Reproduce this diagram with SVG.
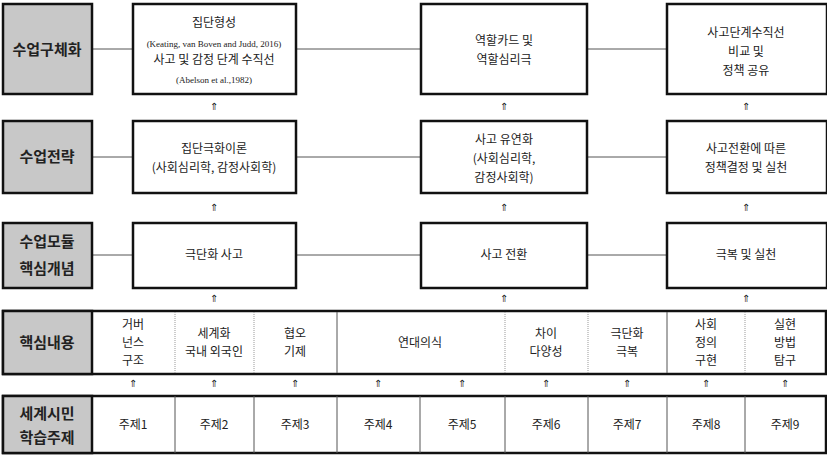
<svg xmlns="http://www.w3.org/2000/svg" width="827" height="457" viewBox="0 0 827 457">
<style>
text{font-family:"Noto Sans CJK KR","Liberation Serif",serif;text-anchor:middle;fill:#222}
.lab{fill:#c8c8c8;stroke:#111;stroke-width:2.5}
.lt{font-size:15px;font-weight:bold}
.box{fill:#fff;stroke:#111;stroke-width:2.5}
.t{font-size:12px}
.s{font-size:9px;font-family:"Liberation Serif",serif}
.ln{stroke:#555;stroke-width:1}
.dot{stroke:#999;stroke-width:1;stroke-dasharray:1 1}
.ar{font-size:10px;fill:#777}
</style>
<g id="connectors">
<line class="ln" x1="92" y1="49" x2="133" y2="49"/><line class="ln" x1="296" y1="49" x2="421" y2="49"/><line class="ln" x1="587" y1="49" x2="667" y2="49"/>
<line class="ln" x1="92" y1="157" x2="133" y2="157"/><line class="ln" x1="296" y1="157" x2="421" y2="157"/><line class="ln" x1="587" y1="157" x2="667" y2="157"/>
<line class="ln" x1="92" y1="255" x2="133" y2="255"/><line class="ln" x1="296" y1="255" x2="421" y2="255"/><line class="ln" x1="587" y1="255" x2="667" y2="255"/>
<g class="ar">
<text x="214" y="110">⇑</text><text x="504" y="110">⇑</text><text x="746" y="110">⇑</text>
<text x="214" y="211">⇑</text><text x="504" y="211">⇑</text><text x="746" y="211">⇑</text>
<text x="214" y="302">⇑</text><text x="504" y="302">⇑</text><text x="746" y="302">⇑</text>
<text x="133" y="387">⇑</text><text x="214" y="387">⇑</text><text x="295" y="387">⇑</text><text x="378" y="387">⇑</text><text x="462" y="387">⇑</text><text x="546" y="387">⇑</text><text x="627" y="387">⇑</text><text x="706" y="387">⇑</text><text x="785" y="387">⇑</text>
</g>
</g>
<g id="row1">
<rect class="lab" x="3" y="4" width="89" height="90"/><text class="lt" x="47" y="55">수업구체화</text>
<g id="n1a"><rect class="box" x="133" y="4" width="163" height="90"/>
<text class="t" x="214" y="27">집단형성</text><text class="s" x="214" y="47">(Keating, van Boven and Judd, 2016)</text><text class="t" x="214" y="64">사고 및 감정 단계 수직선</text><text class="s" x="214" y="83">(Abelson et al.,1982)</text></g>
<g id="n1b"><rect class="box" x="421" y="4" width="166" height="90"/><text class="t" x="504" y="45">역할카드 및</text><text class="t" x="504" y="64">역할심리극</text></g>
<g id="n1c"><rect class="box" x="667" y="4" width="160" height="90"/><text class="t" x="746" y="37">사고단계수직선</text><text class="t" x="746" y="56">비교 및</text><text class="t" x="746" y="75">정책 공유</text></g>
</g>
<g id="row2">
<rect class="lab" x="3" y="121" width="89" height="72"/><text class="lt" x="47" y="162">수업전략</text>
<g id="n2a"><rect class="box" x="133" y="121" width="163" height="72"/><text class="t" x="214" y="153">집단극화이론</text><text class="t" x="214" y="172">(사회심리학, 감정사회학)</text></g>
<g id="n2b"><rect class="box" x="421" y="121" width="166" height="72"/><text class="t" x="504" y="144">사고 유연화</text><text class="t" x="504" y="163">(사회심리학,</text><text class="t" x="504" y="182">감정사회학)</text></g>
<g id="n2c"><rect class="box" x="667" y="121" width="160" height="72"/><text class="t" x="746" y="153">사고전환에 따른</text><text class="t" x="746" y="172">정책결정 및 실천</text></g>
</g>
<g id="row3">
<rect class="lab" x="3" y="223" width="89" height="65"/><text class="lt" x="47" y="247">수업모듈</text><text class="lt" x="47" y="274">핵심개념</text>
<g id="n3a"><rect class="box" x="133" y="223" width="163" height="65"/><text class="t" x="214" y="259">극단화 사고</text></g>
<g id="n3b"><rect class="box" x="421" y="223" width="166" height="65"/><text class="t" x="504" y="259">사고 전환</text></g>
<g id="n3c"><rect class="box" x="667" y="223" width="160" height="65"/><text class="t" x="746" y="259">극복 및 실천</text></g>
</g>
<g id="row4">
<rect class="box" x="3" y="311" width="823" height="63"/>
<rect class="lab" x="3" y="311" width="89" height="63"/><text class="lt" x="47" y="348">핵심내용</text>
<line class="dot" x1="175" y1="312" x2="175" y2="373"/><line class="dot" x1="254" y1="312" x2="254" y2="373"/><line class="ln" x1="337" y1="312" x2="337" y2="373"/><line class="dot" x1="505" y1="312" x2="505" y2="373"/><line class="dot" x1="588" y1="312" x2="588" y2="373"/><line class="ln" x1="667" y1="312" x2="667" y2="373"/><line class="dot" x1="745" y1="312" x2="745" y2="373"/>
<g class="t"><text x="133" y="329">거버</text><text x="133" y="347">넌스</text><text x="133" y="365">구조</text>
<text x="214" y="338">세계화</text><text x="214" y="356">국내 외국인</text>
<text x="295" y="338">협오</text><text x="295" y="356">기제</text>
<text x="420" y="347">연대의식</text>
<text x="546" y="338">차이</text><text x="546" y="356">다양성</text>
<text x="627" y="338">극단화</text><text x="627" y="356">극복</text>
<text x="706" y="329">사회</text><text x="706" y="347">정의</text><text x="706" y="365">구현</text>
<text x="785" y="329">실현</text><text x="785" y="347">방법</text><text x="785" y="365">탐구</text></g>
</g>
<g id="row5">
<rect class="box" x="3" y="396" width="823" height="57"/>
<rect class="lab" x="3" y="396" width="89" height="57"/><text class="lt" x="47" y="419">세계시민</text><text class="lt" x="47" y="443">학습주제</text>
<g class="ln"><line x1="175" y1="396" x2="175" y2="453"/><line x1="254" y1="396" x2="254" y2="453"/><line x1="337" y1="396" x2="337" y2="453"/><line x1="420" y1="396" x2="420" y2="453"/><line x1="505" y1="396" x2="505" y2="453"/><line x1="588" y1="396" x2="588" y2="453"/><line x1="667" y1="396" x2="667" y2="453"/><line x1="745" y1="396" x2="745" y2="453"/></g>
<g class="t"><text x="133" y="429">주제1</text><text x="214" y="429">주제2</text><text x="295" y="429">주제3</text><text x="378" y="429">주제4</text><text x="462" y="429">주제5</text><text x="546" y="429">주제6</text><text x="627" y="429">주제7</text><text x="706" y="429">주제8</text><text x="785" y="429">주제9</text></g>
</g>
</svg>
